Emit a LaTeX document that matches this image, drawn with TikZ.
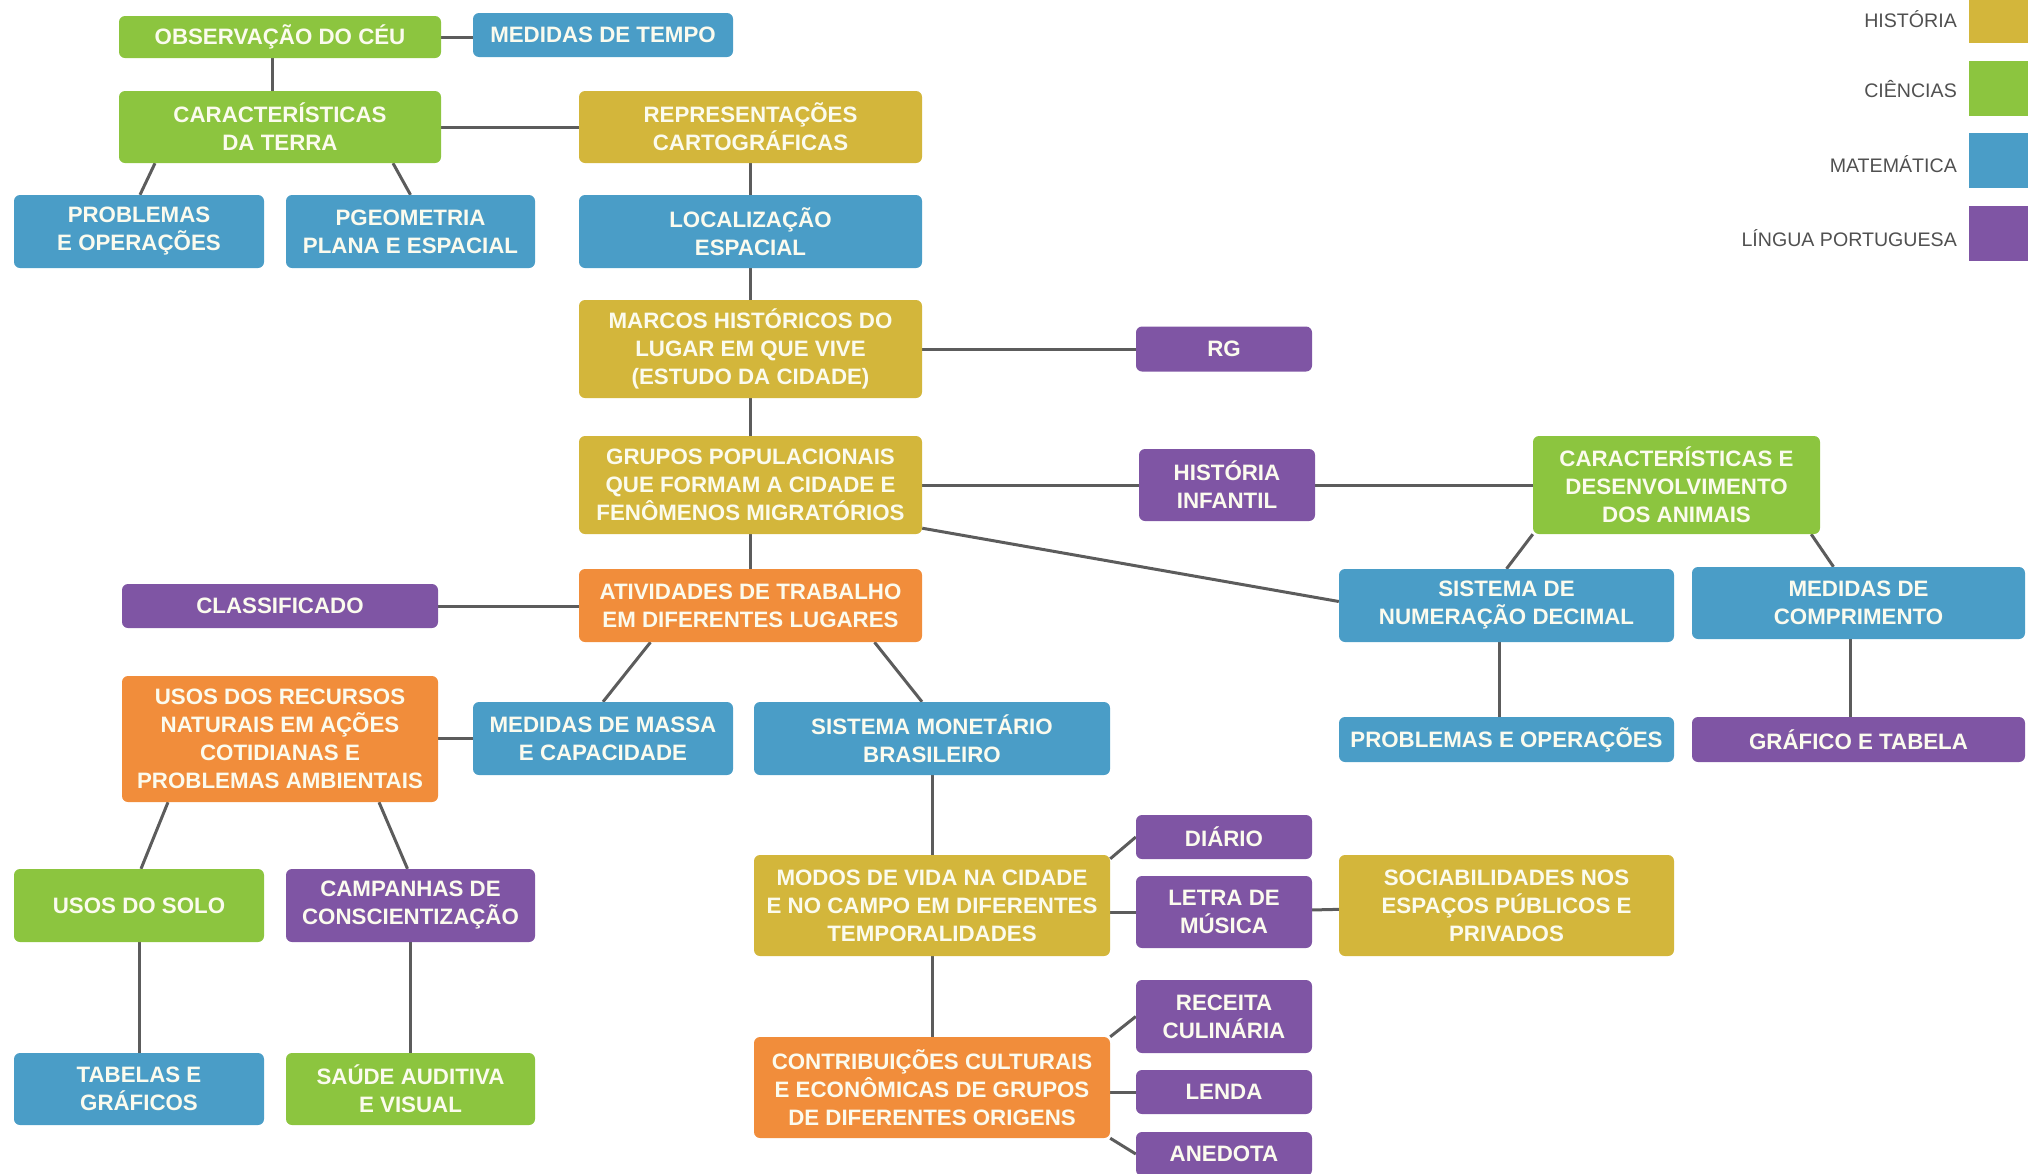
\documentclass[tikz,border=0pt]{standalone}
\usepackage{fontspec}
\setmainfont{Liberation Sans}
\usetikzlibrary{backgrounds}

\definecolor{cHist}{HTML}{D3B63B}
\definecolor{cCien}{HTML}{8CC53F}
\definecolor{cMat}{HTML}{4A9DC7}
\definecolor{cPort}{HTML}{7F55A4}
\definecolor{cGeo}{HTML}{F18D3B}
\definecolor{cTexto}{HTML}{FBFBEE}
\definecolor{cLinha}{HTML}{5C5C5C}
\definecolor{cLegenda}{HTML}{505050}

\tikzset{
    caixa/.style={rectangle, rounded corners=6pt, inner sep=0pt, align=center,
        text=cTexto, font=\bfseries\fontsize{22.3}{28}\selectfont},
    hist/.style={caixa, fill=cHist},
    cien/.style={caixa, fill=cCien},
    mat/.style={caixa, fill=cMat},
    port/.style={caixa, fill=cPort},
    geo/.style={caixa, fill=cGeo},
    sz/.style 2 args={minimum width=#1pt, minimum height=#2pt},
    liga/.style={draw=cLinha, line width=3pt},
    legquadro/.style={rectangle, inner sep=0pt, minimum width=59pt, minimum height=55pt},
    legtexto/.style={anchor=east, inner sep=0pt, text=cLegenda, font=\fontsize{19.6}{22}\selectfont},
}

\begin{document}
\begin{tikzpicture}[x=1pt, y=-1pt]
    \useasboundingbox (0,0) rectangle (2028,1173);

    % Legenda
    \node[legquadro, fill=cHist] (lhist) at (1998.5,15.5) {};
    \node[legquadro, fill=cCien] (lcien) at (1998.5,88.5) {};
    \node[legquadro, fill=cMat] (lmat) at (1998.5,160.5) {};
    \node[legquadro, fill=cPort] (lport) at (1998.5,233) {};
    \node[legtexto] (thist) at (1957,19) {HISTÓRIA};
    \node[legtexto] (tcien) at (1957,89.5) {CIÊNCIAS};
    \node[legtexto] (tmat) at (1957,164) {MATEMÁTICA};
    \node[legtexto] (tport) at (1957,238) {LÍNGUA PORTUGUESA};

    % Coluna da esquerda
    \node[cien, sz={322}{42}] (obs) at (280,37) {OBSERVAÇÃO DO CÉU};
    \node[mat, sz={260}{44}] (tempo) at (603,35) {MEDIDAS DE TEMPO};
    \node[cien, sz={322}{72}] (terra) at (280,127) {CARACTERÍSTICAS\\DA TERRA};
    \node[mat, sz={250}{73}] (probl1) at (139,231.5) {PROBLEMAS\\E OPERAÇÕES};
    \node[mat, sz={249}{73}] (geom) at (410.5,231.5) {PGEOMETRIA\\PLANA E ESPACIAL};
    \node[port, sz={316}{44}] (classif) at (280,606) {CLASSIFICADO};
    \node[geo, sz={316}{126}] (recursos) at (280,739) {USOS DOS RECURSOS\\NATURAIS EM AÇÕES\\COTIDIANAS E\\PROBLEMAS AMBIENTAIS};
    \node[mat, sz={260}{73}] (massa) at (603,738.5) {MEDIDAS DE MASSA\\E CAPACIDADE};
    \node[cien, sz={250}{73}] (solo) at (139,905.5) {USOS DO SOLO};
    \node[port, sz={249}{73}] (campanhas) at (410.5,905.5) {CAMPANHAS DE\\CONSCIENTIZAÇÃO};
    \node[mat, sz={250}{72}] (tabelas) at (139,1089) {TABELAS E\\GRÁFICOS};
    \node[cien, sz={249}{72}] (saude) at (410.5,1089) {SAÚDE AUDITIVA\\E VISUAL};

    % Coluna central
    \node[hist, sz={343}{72}] (cart) at (750.5,127) {REPRESENTAÇÕES\\CARTOGRÁFICAS};
    \node[mat, sz={343}{73}] (local) at (750.5,231.5) {LOCALIZAÇÃO\\ESPACIAL};
    \node[hist, sz={343}{98}] (marcos) at (750.5,349) {MARCOS HISTÓRICOS DO\\LUGAR EM QUE VIVE\\(ESTUDO DA CIDADE)};
    \node[hist, sz={343}{98}] (grupos) at (750.5,485) {GRUPOS POPULACIONAIS\\QUE FORMAM A CIDADE E\\FENÔMENOS MIGRATÓRIOS};
    \node[geo, sz={343}{73}] (ativ) at (750.5,605.5) {ATIVIDADES DE TRABALHO\\EM DIFERENTES LUGARES};
    \node[mat, sz={356}{73}] (monet) at (932,738.5) {SISTEMA MONETÁRIO\\BRASILEIRO};
    \node[hist, sz={356}{101}] (modos) at (932,905.5) {MODOS DE VIDA NA CIDADE\\E NO CAMPO EM DIFERENTES\\TEMPORALIDADES};
    \node[geo, sz={356}{101}] (contrib) at (932,1087.5) {CONTRIBUIÇÕES CULTURAIS\\E ECONÔMICAS DE GRUPOS\\DE DIFERENTES ORIGENS};

    % Generos textuais
    \node[port, sz={176}{45}] (rg) at (1224,349) {RG};
    \node[port, sz={176}{72}] (infantil) at (1227,485) {HISTÓRIA\\INFANTIL};
    \node[port, sz={176}{44}] (diario) at (1224,837) {DIÁRIO};
    \node[port, sz={176}{72}] (letra) at (1224,912) {LETRA DE\\MÚSICA};
    \node[port, sz={176}{73}] (receita) at (1224,1016.5) {RECEITA\\CULINÁRIA};
    \node[port, sz={176}{44}] (lenda) at (1224,1092) {LENDA};
    \node[port, sz={176}{44}] (anedota) at (1224,1154) {ANEDOTA};

    % Coluna da direita
    \node[cien, sz={287}{98}] (animais) at (1676.5,485) {CARACTERÍSTICAS E\\DESENVOLVIMENTO\\DOS ANIMAIS};
    \node[mat, sz={335}{73}] (decimal) at (1506.5,605.5) {SISTEMA DE\\NUMERAÇÃO DECIMAL};
    \node[mat, sz={333}{72}] (compr) at (1858.5,603) {MEDIDAS DE\\COMPRIMENTO};
    \node[mat, sz={335}{45}] (probl2) at (1506.5,739.5) {PROBLEMAS E OPERAÇÕES};
    \node[port, sz={333}{45}] (grafico) at (1858.5,739.5) {GRÁFICO E TABELA};
    \node[hist, sz={335}{101}] (sociab) at (1506.5,905.5) {SOCIABILIDADES NOS\\ESPAÇOS PÚBLICOS E\\PRIVADOS};

    % Ligacoes
    \begin{scope}[on background layer]
        \draw[liga] (obs.east) -- (obs.east -| tempo.west);
        \draw[liga] ([xshift=-8pt]obs.south) -- ([xshift=-8pt]terra.north);
        \draw[liga] (terra) -- (cart);
        \draw[liga] ([xshift=-125pt]terra.south) -- ([xshift=1pt]probl1.north);
        \draw[liga] ([xshift=113pt]terra.south) -- (geom.north);
        \draw[liga] (cart) -- (local);
        \draw[liga] (local) -- (marcos);
        \draw[liga] (marcos) -- (rg);
        \draw[liga] (marcos) -- (grupos);
        \draw[liga] (grupos) -- (infantil);
        \draw[liga] (infantil) -- (animais);
        \draw[liga] ([yshift=6pt]grupos.south east) -- ([yshift=4pt]decimal.west);
        \draw[liga] (animais.south west) -- (decimal.north);
        \draw[liga] ([xshift=-9pt]animais.south east) -- ([xshift=-25pt]compr.north);
        \draw[liga] ([xshift=-7pt]decimal.south) -- ([xshift=-7pt]probl2.north);
        \draw[liga] ([xshift=-8pt]compr.south) -- ([xshift=-8pt]grafico.north);
        \draw[liga] (grupos) -- (ativ);
        \draw[liga] (classif.east) -- (classif.east -| ativ.west);
        \draw[liga] ([xshift=-100pt]ativ.south) -- (massa.north);
        \draw[liga] ([xshift=124pt]ativ.south) -- ([xshift=-10pt]monet.north);
        \draw[liga] (massa.west -| recursos.east) -- (massa.west);
        \draw[liga] ([xshift=-112pt]recursos.south) -- ([xshift=2pt]solo.north);
        \draw[liga] ([xshift=99pt]recursos.south) -- ([xshift=-3pt]campanhas.north);
        \draw[liga] (solo) -- (tabelas);
        \draw[liga] (campanhas) -- (saude);
        \draw[liga] (monet) -- (modos);
        \draw[liga] ([yshift=-4pt]modos.north east) -- (diario.west);
        \draw[liga] (letra.west -| modos.east) -- (letra.west);
        \draw[liga] (letra) -- (sociab);
        \draw[liga] (modos) -- (contrib);
        \draw[liga] (contrib.north east) -- (receita.west);
        \draw[liga] (lenda.west -| contrib.east) -- (lenda.west);
        \draw[liga] (contrib.south east) -- (anedota.west);
    \end{scope}
\end{tikzpicture}
\end{document}
